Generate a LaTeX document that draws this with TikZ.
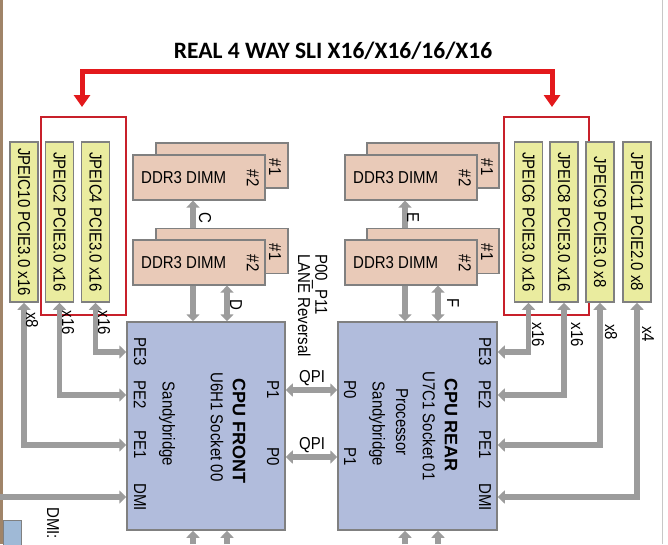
\documentclass[tikz,border=0pt]{standalone}
\usepackage{fontspec}
\usepackage{graphicx}
\setmainfont{Liberation Sans}
\newfontfamily\titlefont{Carlito}
\usetikzlibrary{arrows.meta,calc}
\newcommand{\tx}[1]{\scalebox{1}[1.15]{#1}}
\definecolor{slotfill}{HTML}{EAEC9F}
\definecolor{dimmfill}{HTML}{E9CAB8}
\definecolor{cpufill}{HTML}{B1BCDC}
\definecolor{edgegray}{HTML}{808080}
\definecolor{arrgray}{HTML}{9C9C9C}
\definecolor{slired}{HTML}{E3191C}
\definecolor{boxred}{HTML}{C8202A}
\definecolor{brownedge}{HTML}{A08468}
\definecolor{smallblue}{HTML}{9FB9D6}
\begin{document}
\begin{tikzpicture}[x=1pt,y=-1pt,
  every node/.style={font=\fontsize{15}{18}\selectfont, inner sep=0pt},
  slot/.style={draw=edgegray, line width=1.5pt, fill=slotfill, minimum width=28pt, minimum height=160pt},
  dimm/.style={draw=edgegray, line width=1.2pt, fill=dimmfill, minimum width=132pt, minimum height=45pt},
  cpu/.style={draw=edgegray, line width=1.5pt, fill=cpufill, minimum height=208pt},
  vtext/.style={rotate=-90},
  boldtext/.style={rotate=-90, font=\bfseries\fontsize{18}{20}\selectfont},
  redbox/.style={draw=boxred, line width=2pt, minimum width=85pt, minimum height=198pt},
  gar/.style={draw=arrgray, line width=5.5pt, >={Triangle[width=13pt,length=7pt]}},
  sli/.style={draw=slired, line width=5pt, >={Triangle[width=16pt,length=12pt]}}
]
\useasboundingbox (0,0) rectangle (668,544);
\fill[white] (0,0) rectangle (668,544);
\fill[brownedge] (0,0) rectangle (3,544);
\draw[black!22, line width=1pt] (662.5,0) -- (662.5,544);

% title and SLI bridge
\node[font=\titlefont\bfseries\fontsize{23.5}{26}\selectfont] (title) at (333,51) {REAL 4 WAY SLI X16/X16/16/X16};
\node[redbox] (boxL) at (83.5,216) {};
\node[redbox] (boxR) at (546,216) {};
\coordinate (bar) at (0,71.5);
\coordinate (tipL) at (82,107);
\coordinate (tipR) at (552,107);
\draw[sli,<->] (tipL) -- (tipL |- bar) -- (tipR |- bar) -- (tipR);

% PCIe slots
\node[slot] (s10) at (24,222) {};
\node[vtext] (t10) at (s10) {\tx{JPEIC10 PCIE3.0 x16}};
\node[slot] (s2) at (59.5,222) {};
\node[vtext] (t2) at (s2) {\tx{JPEIC2 PCIE3.0 x16}};
\node[slot] (s4) at (95.5,222) {};
\node[vtext] (t4) at (s4) {\tx{JPEIC4 PCIE3.0 x16}};
\node[slot] (s6) at (528.5,222) {};
\node[vtext] (t6) at (s6) {\tx{JPEIC6 PCIE3.0 x16}};
\node[slot] (s8) at (564,222) {};
\node[vtext] (t8) at (s8) {\tx{JPEIC8 PCIE3.0 x16}};
\node[slot] (s9) at (600,222) {};
\node[vtext] (t9) at (s9) {\tx{JPEIC9 PCIE3.0 x8}};
\node[slot] (s11) at (637,222) {};
\node[vtext] (t11) at (s11) {\tx{JPEIC11 PCIE2.0 x8}};

% DIMMs
\node[dimm] (dTLb) at (222,165.5) {};
\node[vtext] (dTLb1) at (275,167) {\tx{\#1}};
\node[dimm] (dTLf) at (199,177.5) {};
\node[anchor=west] (dTLt) at (141,178) {\tx{DDR3 DIMM}};
\node[vtext] (dTLf2) at (253,178) {\tx{\#2}};

\node[dimm] (dLLb) at (222,251) {};
\node[vtext] (dLLb1) at (275,252) {\tx{\#1}};
\node[dimm] (dLLf) at (199,262.5) {};
\node[anchor=west] (dLLt) at (141,263) {\tx{DDR3 DIMM}};
\node[vtext] (dLLf2) at (253,263) {\tx{\#2}};

\node[dimm] (dTRb) at (433,165.5) {};
\node[vtext] (dTRb1) at (487,167) {\tx{\#1}};
\node[dimm] (dTRf) at (411,177.5) {};
\node[anchor=west] (dTRt) at (353,178) {\tx{DDR3 DIMM}};
\node[vtext] (dTRf2) at (465,178) {\tx{\#2}};

\node[dimm] (dLRb) at (433,251) {};
\node[vtext] (dLRb1) at (487,252) {\tx{\#1}};
\node[dimm] (dLRf) at (411,262.5) {};
\node[anchor=west] (dLRt) at (353,263) {\tx{DDR3 DIMM}};
\node[vtext] (dLRf2) at (465,263) {\tx{\#2}};

% CPUs
\node[cpu, minimum width=158pt] (cpuF) at (206,426) {};
\node[cpu, minimum width=159pt] (cpuR) at (417.5,426) {};

\node[vtext] (fPE3) at (140,352) {\tx{PE3}};
\node[vtext] (fPE2) at (140,395) {\tx{PE2}};
\node[vtext] (fPE1) at (140,445) {\tx{PE1}};
\node[vtext] (fDMI) at (140,497) {\tx{DMI}};
\node[vtext] (fP1) at (273,390) {\tx{P1}};
\node[vtext] (fP0) at (273,457) {\tx{P0}};
\node[vtext] (fSB) at (167,424) {\tx{Sandybridge}};
\node[vtext] (fSock) at (217,427) {\tx{U6H1 Socket 00}};
\node[boldtext] (fName) at (239,431) {CPU FRONT};

\node[vtext] (rPE3) at (485,352) {\tx{PE3}};
\node[vtext] (rPE2) at (485,395) {\tx{PE2}};
\node[vtext] (rPE1) at (485,445) {\tx{PE1}};
\node[vtext] (rDMI) at (485,497) {\tx{DMI}};
\node[vtext] (rP0) at (350,390) {\tx{P0}};
\node[vtext] (rP1) at (350,457) {\tx{P1}};
\node[vtext] (rSB) at (377,424) {\tx{Sandybridge}};
\node[vtext] (rProc) at (402,422) {\tx{Processor}};
\node[vtext] (rSock) at (429,426) {\tx{U7C1 Socket 01}};
\node[boldtext] (rName) at (451,425) {CPU REAR};

\node[vtext, anchor=west] (lane) at (311,254) {\scalebox{1}[1.15]{\begin{tabular}{@{}l@{}}P00\_P11\\[-3pt]LANE Reversal\end{tabular}}};

% PCIe connectors, front
\coordinate (dmiIn) at (0,497);
\draw[gar,<->] (s4.south) |- (cpuF.west |- fPE3);
\draw[gar,<->] (s2.south) |- (cpuF.west |- fPE2);
\draw[gar,<->] (s10.south) |- (cpuF.west |- fPE1);
\draw[gar,->] (dmiIn) -- (cpuF.west |- fDMI);
\node[vtext] (l10) at (32,320) {\tx{x8}};
\node[vtext] (l2) at (68,323) {\tx{x16}};
\node[vtext] (l4) at (104,323) {\tx{x16}};

% PCIe connectors, rear
\draw[gar,<->] (s6.south) |- (cpuR.east |- rPE3);
\draw[gar,<->] (s8.south) |- (cpuR.east |- rPE2);
\draw[gar,<->] (s9.south) |- (cpuR.east |- rPE1);
\draw[gar,<->] (s11.south) |- (cpuR.east |- rDMI);
\node[vtext] (l6) at (538,335) {\tx{x16}};
\node[vtext] (l8) at (577,335) {\tx{x16}};
\node[vtext] (l9) at (611,332) {\tx{x8}};
\node[vtext] (l11) at (648,334) {\tx{x4}};

% QPI
\draw[gar,<->] (cpuF.east |- fP1) -- (cpuR.west |- rP0);
\draw[gar,<->] (cpuF.east |- fP0) -- (cpuR.west |- rP1);
\node (q1) at (312,378) {\tx{QPI}};
\node (q2) at (312,445) {\tx{QPI}};

% memory channels
\coordinate (cL) at (193,0);
\coordinate (dL) at (227,0);
\coordinate (eR) at (405,0);
\coordinate (fR) at (438,0);
\coordinate (botEdge) at (0,544);
\draw[gar,->] (dLLb.north -| cL) -- (dTLf.south -| cL);
\draw[gar,->] (dLLf.south -| cL) -- (cpuF.north -| cL);
\draw[gar,<->] (dLLf.south -| dL) -- (cpuF.north -| dL);
\draw[gar,->] (dLRb.north -| eR) -- (dTRf.south -| eR);
\draw[gar,->] (dLRf.south -| eR) -- (cpuR.north -| eR);
\draw[gar,<->] (dLRf.south -| fR) -- (cpuR.north -| fR);
\node[vtext] (lc) at (205,218) {\tx{C}};
\node[vtext] (ld) at (236,305) {\tx{D}};
\node[vtext] (le) at (413,217) {\tx{E}};
\node[vtext] (lf) at (453,303) {\tx{F}};

\draw[gar,->] (botEdge -| cL) -- (cpuF.south -| cL);
\draw[gar,->] (botEdge -| dL) -- (cpuF.south -| dL);
\draw[gar,->] (botEdge -| eR) -- (cpuR.south -| eR);
\draw[gar,->] (botEdge -| fR) -- (cpuR.south -| fR);

% cropped bits at the bottom left
\node[draw=edgegray, line width=1pt, fill=smallblue, minimum width=18pt, minimum height=30pt, anchor=north west] (bl) at (3,520) {};
\node[vtext, anchor=west] (dmilbl) at (53,507) {\tx{DMI:}};
\end{tikzpicture}
\end{document}
